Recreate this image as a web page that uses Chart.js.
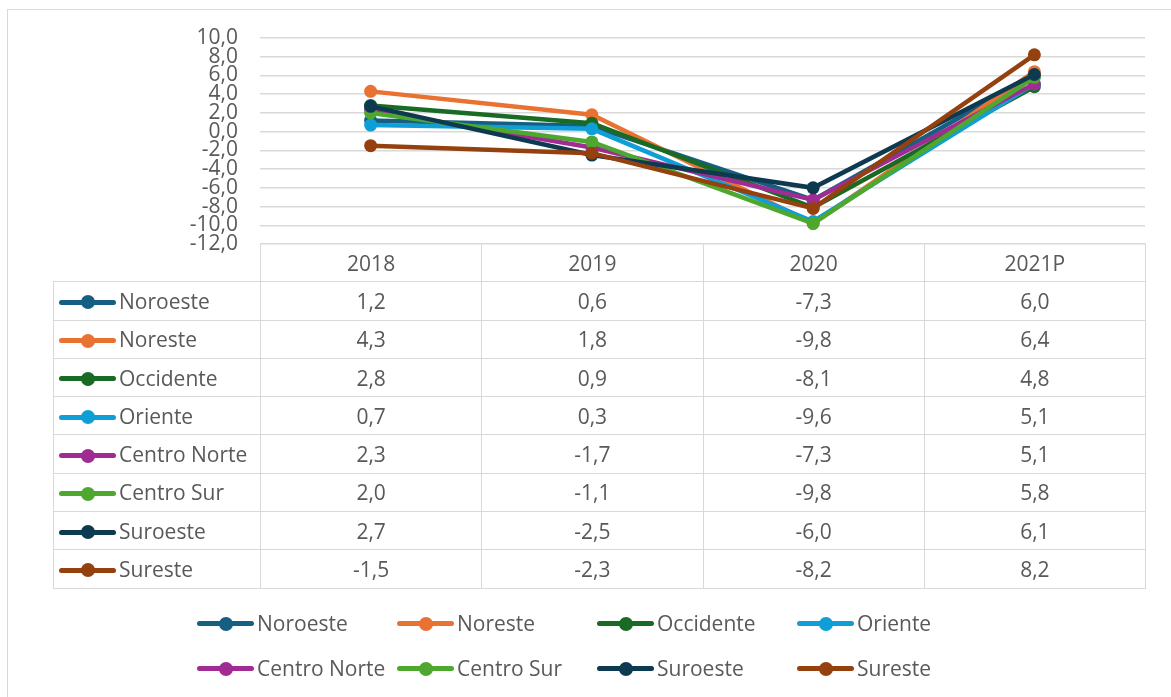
<!DOCTYPE html>
<html>
<head>
<meta charset="utf-8">
<script src="https://cdn.jsdelivr.net/npm/chart.js@4"></script>
<style>
body{margin:0;background:#fff;font-family:"Open Sans",sans-serif;color:#595959;}
#wrap{position:relative;width:1171px;height:697px;overflow:hidden;}
#frame{position:absolute;left:7px;top:9px;width:1200px;height:720px;border:1.5px solid #d9d9d9;}
#c{position:absolute;left:0;top:0;}
#tbl{position:absolute;left:53px;top:243px;border-collapse:collapse;table-layout:fixed;font-size:21px;}
#tbl td{border:1.5px solid #d9d9d9;height:37.3px;padding:0;text-align:center;white-space:nowrap;}
#tbl td.blank{border:none;}
#tbl td.name{text-align:left;padding-left:5px;}
.ic{display:inline-block;position:relative;width:57px;height:14px;vertical-align:middle;margin-right:3px;top:-1px;}
.ln{position:absolute;left:0;right:0;top:4.5px;height:5px;border-radius:2.5px;}
.dt{position:absolute;left:21.5px;top:0;width:14px;height:14px;border-radius:50%;}
#legend{position:absolute;left:197px;top:600px;font-size:21px;}
.row{display:flex;height:45px;align-items:center;}
.item{width:200px;white-space:nowrap;}
</style>
</head>
<body>
<div id="wrap">
  <div id="frame"></div>
  <canvas id="c" width="1171" height="697"></canvas>
  <table id="tbl"></table>
  <div id="legend"></div>
</div>
<script>
// categorias y series
const years = ["2018", "2019", "2020", "2021P"];
const regions = ["Noroeste", "Noreste", "Occidente", "Oriente", "Centro Norte", "Centro Sur", "Suroeste", "Sureste"];
const colors = ["#156082", "#e97132", "#196b24", "#0f9ed5", "#a02b93", "#4ea72e", "#0e3a50", "#94400f"];

const noroeste = [1.2, 0.6, -7.3, 6.0];
const noreste = [4.3, 1.8, -9.8, 6.4];
const occidente = [2.8, 0.9, -8.1, 4.8];
const oriente = [0.7, 0.3, -9.6, 5.1];
const centroNorte = [2.3, -1.7, -7.3, 5.1];
const centroSur = [2.0, -1.1, -9.8, 5.8];
const suroeste = [2.7, -2.5, -6.0, 6.1];
const sureste = [-1.5, -2.3, -8.2, 8.2];

const values = [noroeste, noreste, occidente, oriente, centroNorte, centroSur, suroeste, sureste];

const fmt = v => Number(v).toFixed(1).replace(".", ",");

function icon(c) {
    return '<span class="ic"><span class="ln" style="background:' + c + '"></span><span class="dt" style="background:' + c + '"></span></span>';
}

// tabla de datos
let html = '<colgroup><col style="width:207px">' + years.map(() => '<col style="width:221.25px">').join("") + '</colgroup>';
html += '<tr><td class="blank"></td>' + years.map(y => "<td>" + y + "</td>").join("") + "</tr>";
regions.forEach((r, i) => {
    html += '<tr><td class="name">' + icon(colors[i]) + r + "</td>" + values[i].map(v => "<td>" + fmt(v) + "</td>").join("") + "</tr>";
});
document.querySelector("#tbl").innerHTML = html;

// leyenda
let leg = "";
for (let row = 0; row < 2; row++) {
    leg += '<div class="row">';
    for (let k = 0; k < 4; k++) {
        const i = row * 4 + k;
        leg += '<div class="item">' + icon(colors[i]) + regions[i] + "</div>";
    }
    leg += "</div>";
}
document.querySelector("#legend").innerHTML = leg;

const datasets = regions.map((r, i) => ({
    label: r,
    data: values[i],
    borderColor: colors[i],
    backgroundColor: colors[i],
    borderWidth: 4.5,
    pointRadius: 6.5,
    pointBorderWidth: 0,
    order: regions.length - i
}));

let ctx = document.querySelector("#c").getContext("2d");
let chart = new Chart(ctx, {
    type: "line",
    data: {
        labels: years,
        datasets: datasets
    },
    options: {
        responsive: false,
        animation: false,
        layout: {
            padding: {left: 0, top: 38, right: 26, bottom: 453}
        },
        plugins: {
            legend: {display: false},
            tooltip: {enabled: false}
        },
        scales: {
            x: {
                display: false,
                offset: true
            },
            y: {
                min: -12,
                max: 10,
                ticks: {
                    stepSize: 2,
                    autoSkip: false,
                    padding: 22,
                    color: "#595959",
                    font: {size: 21, family: "Open Sans", lineHeight: 0.9},
                    callback: v => fmt(v)
                },
                grid: {
                    color: "#d9d9d9",
                    lineWidth: 1.5,
                    drawTicks: false
                },
                border: {display: false},
                afterFit(scale) {
                    scale.width = 260;
                }
            }
        }
    }
});
</script>
</body>
</html>
